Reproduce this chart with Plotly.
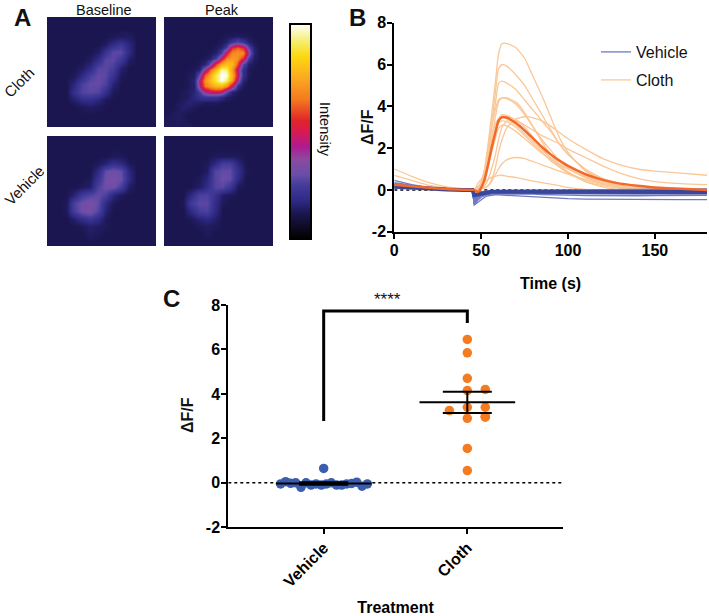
import plotly.graph_objects as go

W, H = 709, 616
FONT = "Liberation Sans"

# ---------- Panel A: intensity images (0-100), rows top to bottom ----------
cloth_baseline = [
    [12,12,12,12,12,12,12,12,12,12,12,12,12,12],
    [12,12,12,12,12,12,12,12,12,12,12,12,12,12],
    [12,12,12,12,12,12,12,12,13,14,14,12,12,12],
    [12,12,12,12,12,12,12,14,19,23,17,12,12,12],
    [12,12,12,12,12,12,14,21,28,28,18,12,12,12],
    [12,12,12,12,12,14,19,28,28,23,14,12,12,12],
    [12,12,12,12,14,18,27,28,25,15,12,12,12,12],
    [12,12,12,13,18,26,29,28,21,13,12,12,12,12],
    [12,12,12,17,26,29,29,26,16,12,12,12,12,12],
    [12,12,12,20,27,28,27,20,13,12,12,12,12,12],
    [12,12,12,15,19,20,17,13,12,12,12,12,12,12],
    [12,12,12,12,13,14,13,12,12,12,12,12,12,12],
    [12,12,12,12,12,12,12,12,12,12,12,12,12,12],
    [12,12,12,12,12,12,12,12,12,12,12,12,12,12],
]
cloth_peak = [
    [12,12,12,12,12,12,12,12,12,12,12,12,12,12,12,12,12,12,12,12],
    [12,12,12,12,12,12,12,12,12,12,12,12,12,12,12,12,12,12,12,12],
    [12,12,12,12,12,12,12,12,12,12,12,12,12,12,12,12,12,12,12,12],
    [12,12,12,12,12,12,12,12,12,12,12,13,13,14,13,13,12,12,12,12],
    [12,12,12,12,12,12,12,12,12,12,13,15,22,28,22,15,13,12,12,12],
    [12,12,12,12,12,12,12,12,12,13,16,25,55,62,55,28,15,12,12,12],
    [12,12,12,12,12,12,12,12,13,15,25,52,68,70,68,38,16,12,12,12],
    [12,12,12,12,12,12,12,13,15,25,50,68,72,70,55,24,14,12,12,12],
    [12,12,12,12,12,12,13,16,32,58,74,80,78,60,28,15,13,12,12,12],
    [12,12,12,12,12,13,15,40,64,78,96,92,72,45,20,13,12,12,12,12],
    [12,12,12,12,13,14,30,62,76,90,100,98,76,50,20,13,12,12,12,12],
    [12,12,12,12,13,16,45,70,80,90,100,92,72,40,16,12,12,12,12,12],
    [12,12,12,12,13,15,42,65,72,78,78,70,48,20,13,12,12,12,12,12],
    [12,12,12,13,14,16,25,42,50,52,48,30,16,13,12,12,12,12,12,12],
    [12,12,12,13,14,17,20,22,22,22,18,14,13,12,12,12,12,12,12,12],
    [12,12,13,14,16,15,14,13,13,13,12,12,12,12,12,12,12,12,12,12],
    [12,12,13,15,14,13,12,12,12,12,12,12,12,12,12,12,12,12,12,12],
    [12,13,14,13,12,12,12,12,12,12,12,12,12,12,12,12,12,12,12,12],
    [13,13,14,13,12,12,12,12,12,12,12,12,12,12,12,12,12,12,12,12],
    [13,13,13,13,13,12,12,12,12,12,12,12,12,12,12,12,12,12,12,12],
]
vehicle_baseline = [
    [12,12,12,12,12,12,12,12,12,12,12,12,12,12],
    [12,12,12,12,12,12,12,12,12,12,12,12,12,12],
    [12,12,12,12,12,12,12,12,13,13,12,12,12,12],
    [12,12,12,12,12,12,13,16,20,18,13,12,12,12],
    [12,12,12,12,12,12,18,29,31,29,17,12,12,12],
    [12,12,12,12,12,13,22,31,34,30,18,12,12,12],
    [12,12,12,12,13,15,26,31,31,25,14,12,12,12],
    [12,12,12,16,24,27,29,26,17,13,12,12,12,12],
    [12,12,13,26,31,33,29,18,13,12,12,12,12,12],
    [12,12,13,25,31,33,27,16,12,12,12,12,12,12],
    [12,12,12,15,20,23,19,13,12,12,12,12,12,12],
    [12,12,12,12,13,15,14,13,12,12,12,12,12,12],
    [12,12,12,12,12,14,13,12,12,12,12,12,12,12],
    [12,12,12,12,12,12,12,12,12,12,12,12,12,12],
]
vehicle_peak = [
    [12,12,12,12,12,12,12,12,12,12,12,12,12,12],
    [12,12,12,12,12,12,12,12,12,12,12,12,12,12],
    [12,12,12,12,12,12,13,13,13,13,12,12,12,12],
    [12,12,12,12,12,13,18,25,25,17,12,12,12,12],
    [12,12,12,12,12,14,27,29,29,20,13,12,12,12],
    [12,12,12,12,13,17,27,30,29,18,12,12,12,12],
    [12,12,12,12,14,19,27,28,22,13,12,12,12,12],
    [12,12,12,18,26,26,21,14,13,12,12,12,12,12],
    [12,12,13,24,28,28,19,13,12,12,12,12,12,12],
    [12,12,12,18,25,26,18,12,12,12,12,12,12,12],
    [12,12,12,13,16,18,15,12,12,12,12,12,12,12],
    [12,12,12,12,13,14,13,12,12,12,12,12,12,12],
    [12,12,12,12,12,13,12,12,12,12,12,12,12,12],
    [12,12,12,12,12,12,12,12,12,12,12,12,12,12],
]
intensity_scale = [
    [0.00, "#000000"], [0.05, "#0d0a20"], [0.12, "#1b1650"], [0.18, "#2f2a85"],
    [0.25, "#443c9a"], [0.30, "#6a4ea8"], [0.37, "#8a4aa0"], [0.43, "#b01a90"],
    [0.50, "#d81a50"], [0.55, "#e0242a"], [0.65, "#f47a20"], [0.75, "#fbaa20"],
    [0.85, "#fcd80f"], [0.92, "#f5ee70"], [1.00, "#ffffff"],
]

# ---------- Panel B: time courses ----------
time_s = [0,10,20,30,40,46,48,50,52,54,56,58,60,62,65,70,75,80,85,90,95,100,110,120,130,140,150,165,180]
time_v = [0,10,20,30,40,45,46,48,50,52,54,56,58,60,62,65,70,75,80,85,90,95,100,110,120,130,140,150,165,180]
cloth_traces = [
    [.3,.2,.1,.05,.02,0,0,.3,1.0,2.2,3.6,5.0,6.5,7.0,7.0,6.8,6.3,5.4,4.5,3.5,2.5,1.8,.9,.45,.2,.05,0,-.1,-.15],
    [.2,.12,.08,.03,.01,0,0,.2,.8,2,3.2,4.5,5.8,6.0,5.9,5.5,5,4.3,3.6,2.9,2.2,1.7,.95,.5,.25,.1,.03,-.05,-.1],
    [.2,.1,.05,.02,0,0,.05,.2,.7,1.7,2.9,4,5.1,5.2,5.1,4.8,4.3,3.8,3.3,2.8,2.2,1.7,1,.55,.3,.15,.05,0,-.05],
    [.3,.2,.1,.03,0,0,.1,.4,1,2,3,3.8,4.3,4.4,4.35,4.1,3.6,3,2.4,1.9,1.4,1.05,.6,.3,.15,.05,0,-.1,-.2],
    [.15,.1,.05,.02,0,0,0,.2,.6,1.4,2.4,3.4,4.2,4.4,4.4,4.2,3.7,3.0,2.3,1.7,1.2,.85,.4,.15,0,-.1,-.15,-.2,-.25],
    [1,.65,.35,.15,.03,0,0,.05,.1,.2,.5,1,1.8,2.4,3,3.4,3.5,3.45,3.3,3.05,2.75,2.45,1.95,1.5,1.2,1,.9,.8,.7],
    [.7,.45,.22,.1,.02,0,.05,.2,.6,1.2,2,2.8,3.4,3.6,3.55,3.35,3.1,2.85,2.6,2.4,2.2,1.95,1.55,1.15,.8,.55,.4,.3,.25],
    [.2,.12,.06,.02,0,0,.3,.5,.8,1.3,1.9,2.6,3.2,3.3,3.25,3,2.6,2.2,1.8,1.4,1.1,.85,.45,.25,.1,.02,-.03,-.08,-.1],
    [.15,.1,.05,.02,0,0,.1,.3,.7,1.2,1.8,2.4,2.95,3.1,3.05,2.8,2.45,2.1,1.75,1.45,1.2,1,.65,.4,.25,.12,.05,0,-.05],
    [.1,.07,.03,.01,0,0,0,.05,.2,.5,1,1.6,2.4,3.0,3.3,3.3,3,2.5,2,1.5,1.1,.8,.4,.2,.08,0,-.05,-.1,-.15],
    [.15,.1,.05,.02,0,0,0,.05,.1,.2,.4,.7,1,1.25,1.45,1.55,1.5,1.35,1.2,1.05,.9,.75,.5,.3,.15,.05,0,-.1,-.15],
    [.1,.05,.02,.01,0,0,.15,.3,.4,.5,.6,.65,.7,.7,.65,.6,.5,.42,.35,.28,.2,.12,.02,-.05,-.1,-.12,-.14,-.18,-.2],
    [.25,.15,.08,.03,0,0,.05,.3,.9,1.7,2.5,3.1,3.4,3.45,3.4,3.1,2.7,2.3,1.9,1.55,1.25,1,.6,.35,.2,.1,.04,-.02,-.05],
]
cloth_mean = [.25,.18,.1,.04,.01,0,-.1,.1,.5,1.2,2,2.7,3.3,3.48,3.45,3.2,2.85,2.45,2.05,1.7,1.4,1.15,.75,.48,.3,.2,.12,.05,0]
vehicle_traces = [
    [.1,.07,.04,.02,0,0,-.72,-.6,-.45,-.35,-.28,-.25,-.24,-.24,-.25,-.26,-.28,-.3,-.32,-.35,-.38,-.4,-.42,-.44,-.45,-.46,-.46,-.46,-.47,-.47],
    [.45,.25,.12,.05,.01,0,-.7,-.5,-.35,-.28,-.22,-.2,-.2,-.18,-.18,-.18,-.18,-.2,-.2,-.22,-.22,-.24,-.25,-.27,-.28,-.28,-.28,-.27,-.27,-.26],
    [.35,.22,.1,.04,0,0,-.68,-.42,-.3,-.22,-.18,-.15,-.14,-.14,-.14,-.15,-.15,-.16,-.16,-.17,-.18,-.18,-.19,-.2,-.2,-.2,-.2,-.2,-.2,-.2],
    [.3,.2,.1,.03,0,0,-.65,-.38,-.25,-.18,-.14,-.12,-.12,-.11,-.11,-.12,-.12,-.13,-.13,-.13,-.14,-.14,-.15,-.15,-.15,-.15,-.16,-.16,-.16,-.16],
    [.28,.18,.08,.03,0,0,-.6,-.33,-.22,-.16,-.12,-.1,-.1,-.1,-.1,-.1,-.1,-.11,-.11,-.11,-.12,-.12,-.12,-.12,-.13,-.13,-.13,-.13,-.13,-.13],
    [.22,.15,.07,.02,0,0,-.55,-.3,-.2,-.14,-.11,-.09,-.09,-.09,-.08,-.09,-.09,-.09,-.09,-.1,-.1,-.1,-.1,-.1,-.1,-.1,-.11,-.11,-.11,-.1],
    [.2,.13,.06,.02,0,0,-.5,-.26,-.17,-.12,-.09,-.08,-.07,-.07,-.07,-.07,-.07,-.08,-.08,-.08,-.08,-.08,-.08,-.08,-.08,-.08,-.08,-.08,-.08,-.08],
    [.18,.12,.05,.02,0,0,-.45,-.24,-.15,-.1,-.08,-.07,-.06,-.06,-.06,-.06,-.06,-.06,-.06,-.06,-.06,-.06,-.06,-.06,-.06,-.06,-.06,-.06,-.06,-.06],
    [.15,.1,.05,.01,0,0,-.4,-.2,-.13,-.09,-.07,-.06,-.05,-.05,-.05,-.05,-.05,-.05,-.05,-.05,-.05,-.04,-.04,-.04,-.04,-.04,-.04,-.04,-.04,-.04],
    [.12,.08,.04,.01,0,0,-.35,-.17,-.11,-.08,-.06,-.05,-.05,-.04,-.04,-.04,-.04,-.04,-.04,-.04,-.03,-.03,-.03,-.03,-.02,-.02,-.02,-.02,-.02,-.02],
    [.1,.07,.03,.01,0,0,-.3,-.14,-.09,-.07,-.05,-.04,-.04,-.04,-.03,-.03,-.03,-.03,-.03,-.02,-.02,-.02,-.02,-.01,-.01,0,0,0,.01,.01],
    [.08,.05,.02,.01,0,0,-.25,-.12,-.08,-.06,-.05,-.04,-.03,-.03,-.03,-.02,-.02,-.02,-.02,-.01,-.01,-.01,0,0,.01,.02,.02,.03,.04,.05],
]
vehicle_mean = [.16,.11,.05,.02,0,0,-.25,-.22,-.17,-.13,-.1,-.09,-.09,-.09,-.09,-.09,-.09,-.09,-.09,-.09,-.09,-.09,-.1,-.1,-.1,-.1,-.1,-.1,-.1,-.1]

# ---------- Panel C: per-sample peaks ----------
vehicle_offset = [-.30,-.265,-.23,-.195,-.158,-.123,-.088,-.053,-.016,.019,.053,.09,.125,.16,.195,.23,.267,.304,0]
vehicle_peak_val = [-.05,.05,-.02,0,-.2,0,-.1,-.05,-.1,-.05,0,-.1,-.1,-.05,-.03,.03,-.15,-.05,.65]
cloth_offset = [0,0,0,0,.125,0,.125,-.125,.125,0,0,0,.125]
cloth_peak_val = [6.45,5.85,4.7,4.15,4.2,3.4,3.4,3.25,2.95,2.9,1.55,.55,3.0]
group_pos = [1, 2]
group_names = ["Vehicle", "Cloth"]
group_mean = [-.03, 3.62]
group_sem = [.06, .48]
mean_halfwidth = .333
sem_cap_px = 24.5
bracket_x = [1, 1, 2, 2]
bracket_y = [2.78, 7.73, 7.73, 7.19]
y_ticks = [-2, 0, 2, 4, 6, 8]
y_tick_text = ["-2", "0", "2", "4", "6", "8"]

BLUE_LIGHT, BLUE_DARK, BLUE_DOT = "#6f7ac4", "#3a4699", "#3a5dae"
ORANGE_LIGHT, ORANGE_DARK, ORANGE_DOT = "#fbc797", "#f2692a", "#f47b20"


def px_x(a, b):
    return [a / W, b / W]


def px_y(top, bottom):
    return [1 - bottom / H, 1 - top / H]


fig = go.Figure()
panels = [
    (cloth_baseline, 47, 156, 17, 127),
    (cloth_peak, 164, 273, 17, 127),
    (vehicle_baseline, 47, 156, 136, 246),
    (vehicle_peak, 164, 273, 136, 246),
]
for i, (z, x0, x1, y0, y1) in enumerate(panels, start=1):
    fig.add_trace(go.Heatmap(
        z=z, zmin=0, zmax=100, colorscale=intensity_scale, zsmooth="best",
        xaxis=f"x{i}", yaxis=f"y{i}", showscale=(i == 1),
        colorbar=dict(
            x=289.5 / W, xanchor="left", xpad=0, y=1 - 131.5 / H, yanchor="middle", ypad=0,
            len=215 / H, lenmode="fraction", thickness=21, thicknessmode="pixels",
            outlinewidth=2, outlinecolor="black", showticklabels=False, ticks="",
        ),
    ))
    fig.update_layout({
        f"xaxis{i}": dict(domain=px_x(x0, x1), visible=False),
        f"yaxis{i}": dict(domain=px_y(y0, y1), visible=False, autorange="reversed"),
    })

for k, y in enumerate(cloth_traces):
    fig.add_trace(go.Scatter(
        x=time_s, y=y, mode="lines", xaxis="x5", yaxis="y5", name="Cloth", legend="legend2",
        showlegend=(k == 0), line=dict(color=ORANGE_LIGHT, width=1.3, shape="spline", smoothing=0.5),
    ))
for k, y in enumerate(vehicle_traces):
    fig.add_trace(go.Scatter(
        x=time_v, y=y, mode="lines", xaxis="x5", yaxis="y5", name="Vehicle", legend="legend",
        showlegend=(k == 0), line=dict(color=BLUE_LIGHT, width=1.3),
    ))
fig.add_trace(go.Scatter(x=time_v, y=vehicle_mean, mode="lines", xaxis="x5", yaxis="y5", showlegend=False,
                         line=dict(color=BLUE_DARK, width=4)))
fig.add_trace(go.Scatter(x=time_s, y=cloth_mean, mode="lines", xaxis="x5", yaxis="y5", showlegend=False,
                         line=dict(color=ORANGE_DARK, width=2.5, shape="spline", smoothing=0.5)))

fig.add_trace(go.Scatter(
    x=[group_pos[0] + o for o in vehicle_offset], y=vehicle_peak_val, mode="markers",
    xaxis="x6", yaxis="y6", showlegend=False, marker=dict(color=BLUE_DOT, size=9.5),
))
fig.add_trace(go.Scatter(
    x=[group_pos[1] + o for o in cloth_offset], y=cloth_peak_val, mode="markers",
    xaxis="x6", yaxis="y6", showlegend=False, marker=dict(color=ORANGE_DOT, size=9.5),
))
fig.add_trace(go.Scatter(
    x=group_pos, y=group_mean, mode="markers", xaxis="x6", yaxis="y6", showlegend=False,
    marker=dict(size=2, opacity=0),
    error_x=dict(type="constant", value=mean_halfwidth, width=0, thickness=2, color="black"),
    error_y=dict(type="data", array=group_sem, width=sem_cap_px, thickness=2, color="black"),
))
fig.add_trace(go.Scatter(
    x=bracket_x, y=bracket_y, mode="lines", xaxis="x6", yaxis="y6", showlegend=False,
    line=dict(color="black", width=3),
))

tick_font = dict(family=FONT, size=16, color="black", weight=700)
title_font = dict(family=FONT, size=16, color="black", weight=700)
axis_common = dict(showline=True, linecolor="black", linewidth=2, ticks="outside", ticklen=5,
                   tickwidth=2, tickcolor="black", showgrid=False, zeroline=False, tickfont=tick_font,
                   ticklabelstandoff=-2)

fig.update_layout(
    xaxis5=dict(domain=px_x(394.3, 707), anchor="y5", range=[0, 180], tickvals=[0, 50, 100, 150],
                title=dict(text="Time (s)", font=title_font, standoff=20), **axis_common),
    yaxis5=dict(domain=px_y(22.7, 231.7), anchor="x5", range=[-2, 8], tickvals=y_ticks, ticktext=y_tick_text,
                **axis_common),
    xaxis6=dict(domain=px_x(228.3, 562.7), anchor="y6", range=[.336, 2.664], tickvals=group_pos,
                ticktext=group_names, tickangle=-45,
                title=dict(text="Treatment", font=title_font, standoff=24), **axis_common),
    yaxis6=dict(domain=px_y(305, 527.3), anchor="x6", range=[-2, 8], tickvals=y_ticks, ticktext=y_tick_text,
                **axis_common),
    shapes=[
        dict(type="line", xref="x5", yref="y5", x0=0, x1=180, y0=0, y1=0, layer="below",
             line=dict(color="black", width=1.5, dash="dot")),
        dict(type="line", xref="x6", yref="y6", x0=.336, x1=2.664, y0=0, y1=0, layer="below",
             line=dict(color="black", width=1.5, dash="dot")),
    ],
    legend=dict(x=596 / W, y=1 - 35 / H, xanchor="left", yanchor="top", bgcolor="rgba(0,0,0,0)",
                font=dict(family=FONT, size=16, color="#111")),
    legend2=dict(x=596 / W, y=1 - 63 / H, xanchor="left", yanchor="top", bgcolor="rgba(0,0,0,0)",
                 font=dict(family=FONT, size=16, color="#111")),
    width=W, height=H, autosize=False, margin=dict(l=0, r=0, t=0, b=0, autoexpand=False),
    paper_bgcolor="white", plot_bgcolor="white", font=dict(family=FONT),
)


def note(text, x, y, size, bold=False, angle=0, anchor="middle"):
    fig.add_annotation(text=text, x=x / W, y=1 - y / H, xref="paper", yref="paper", showarrow=False,
                       xanchor="center", yanchor=anchor, textangle=angle,
                       font=dict(family=FONT, size=size, color="#111", weight=700 if bold else 400))


note("A", 22, 17, 24, True)
note("B", 357, 17, 24, True)
note("C", 171, 298, 24, True)
note("Baseline", 104, 0, 14.5, anchor="top")
note("Peak", 222, 0, 14.5, anchor="top")
note("Cloth", 19, 83, 15, angle=-45)
note("Vehicle", 24, 185, 15, angle=-45)
note("Intensity", 325, 129, 14.5, angle=90)
note("****", 387, 299, 17)
note("ΔF/F", 367, 127, 16, True, angle=-90)
note("ΔF/F", 187, 415, 16, True, angle=-90)

fig.write_html("out.html", config=dict(displayModeBar=False), post_script="document.body.style.margin='0';")
